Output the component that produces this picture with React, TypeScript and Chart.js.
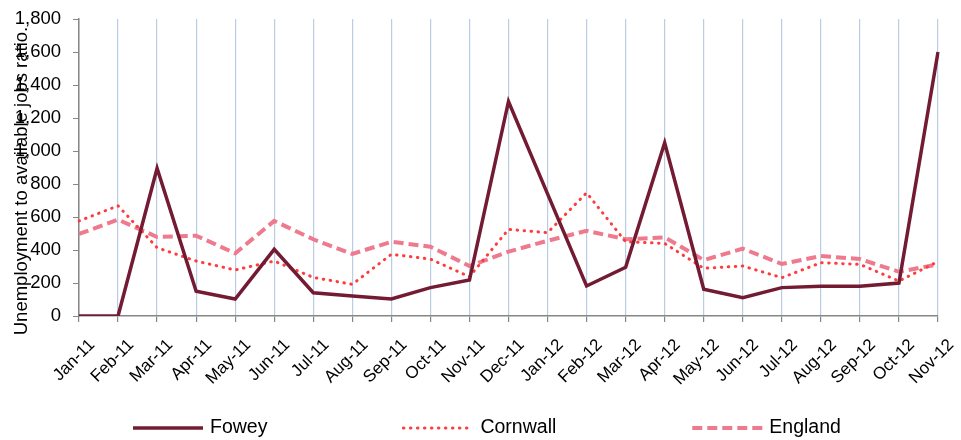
import { useEffect, useRef } from "react";
import { Chart, registerables } from "chart.js";

Chart.register(...registerables);

const categories = [
  "Jan-11", "Feb-11", "Mar-11", "Apr-11", "May-11", "Jun-11", "Jul-11", "Aug-11",
  "Sep-11", "Oct-11", "Nov-11", "Dec-11", "Jan-12", "Feb-12", "Mar-12", "Apr-12",
  "May-12", "Jun-12", "Jul-12", "Aug-12", "Sep-12", "Oct-12", "Nov-12",
];

const foweyValues = [0, 0, 895, 150, 103, 404, 141, 121, 103, 172, 218, 1300, 740, 182, 295, 1050, 162, 111, 172, 180, 180, 200, 1600];
const cornwallValues = [576, 668, 414, 333, 279, 333, 234, 192, 374, 345, 238, 525, 505, 747, 450, 440, 289, 303, 232, 323, 313, 212, 330];
const englandValues = [497, 584, 479, 487, 380, 576, 465, 376, 450, 420, 303, 390, 456, 517, 465, 477, 339, 408, 315, 364, 345, 268, 313];

const seriesNames = ["Fowey", "Cornwall", "England"];
const yMin = 0;
const yMax = 1800;
const yStep = 200;
const yTitle = "Unemployment to available jobs ratio.";

const FONT = '"Liberation Sans", Arial, sans-serif';
const W = 961;
const H = 440;

export default function App() {
  const ref = useRef<HTMLCanvasElement>(null);

  useEffect(() => {
    if (!ref.current) return;

    const overlayPlugin = {
      id: "overlay",
      afterDraw(chart: any) {
        const ctx = chart.ctx as CanvasRenderingContext2D;
        ctx.save();
        // legend
        ctx.font = `19.5px ${FONT}`;
        const lineLen = 70;
        const textGap = 7;
        const itemGap = 136;
        const items = chart.data.datasets.map((ds: any) => ({
          ds,
          w: lineLen + textGap + ctx.measureText(ds.label).width,
        }));
        let x = 133;
        const y = 428;
        items.forEach(({ ds, w }: any) => {
          ctx.beginPath();
          ctx.strokeStyle = ds.borderColor;
          ctx.lineWidth = ds.borderWidth;
          ctx.setLineDash(ds.borderDash || []);
          ctx.lineCap = ds.borderCapStyle || "butt";
          ctx.moveTo(x, y);
          ctx.lineTo(x + lineLen, y);
          ctx.stroke();
          ctx.setLineDash([]);
          ctx.fillStyle = "#000";
          ctx.textBaseline = "middle";
          ctx.textAlign = "left";
          ctx.fillText(ds.label, x + lineLen + textGap, y);
          x += w + itemGap;
        });
        // y axis title
        ctx.translate(22, 181);
        ctx.rotate(-Math.PI / 2);
        ctx.font = `18.5px ${FONT}`;
        ctx.textAlign = "center";
        ctx.textBaseline = "middle";
        ctx.fillStyle = "#000";
        ctx.fillText(yTitle, 0, 0);
        ctx.restore();
      },
    };

    const chart = new Chart(ref.current, {
      type: "line",
      data: {
        labels: categories,
        datasets: [
          {
            label: seriesNames[0],
            data: foweyValues,
            borderColor: "#731B33",
            backgroundColor: "#731B33",
            borderWidth: 3.5,
            pointRadius: 0,
            tension: 0,
          },
          {
            label: seriesNames[1],
            data: cornwallValues,
            borderColor: "#FF3B3B",
            backgroundColor: "#FF3B3B",
            borderWidth: 3,
            borderDash: [0.5, 6.5],
            borderCapStyle: "round",
            pointRadius: 0,
            tension: 0,
          },
          {
            label: seriesNames[2],
            data: englandValues,
            borderColor: "#EE7A8E",
            backgroundColor: "#EE7A8E",
            borderWidth: 4,
            borderDash: [10, 5],
            pointRadius: 0,
            tension: 0,
          },
        ],
      },
      options: {
        responsive: false,
        animation: false,
        layout: { padding: { top: 0, right: 23, bottom: 54, left: 0 } },
        plugins: {
          legend: { display: false },
          tooltip: { enabled: false },
        },
        scales: {
          x: {
            offset: false,
            grid: {
              display: true,
              color: "#B9CDE5",
              lineWidth: 1.2,
              drawTicks: true,
              tickColor: "#868686",
              tickLength: 6,
            },
            border: { color: "#868686", width: 1.5 },
            ticks: {
              autoSkip: false,
              maxRotation: 45,
              minRotation: 45,
              color: "#000",
              font: { family: FONT, size: 17 },
              padding: 13,
              labelOffset: 13,
            },
            afterFit: (s: any) => {
              s.height = 70;
              s.paddingLeft = 0;
              s.paddingRight = 0;
            },
          },
          y: {
            min: yMin,
            max: yMax,
            grid: {
              drawOnChartArea: false,
              drawTicks: true,
              tickColor: "#868686",
              tickLength: 6,
            },
            border: { color: "#868686", width: 1.5 },
            ticks: {
              stepSize: yStep,
              color: "#000",
              font: { family: FONT, size: 18.5 },
              padding: 12,
              callback: (v: any) => String(v).replace(/\B(?=(\d{3})+(?!\d))/g, ","),
            },
            afterFit: (s: any) => {
              s.width = 79;
              s.paddingTop = 19;
              s.paddingBottom = 0;
            },
          },
        },
      },
      plugins: [overlayPlugin],
    });

    return () => chart.destroy();
  }, []);

  return (
    <div style={{ position: "absolute", left: 0, top: 0, width: W, height: H }}>
      <canvas ref={ref} width={W} height={H} style={{ display: "block" }} />
    </div>
  );
}
